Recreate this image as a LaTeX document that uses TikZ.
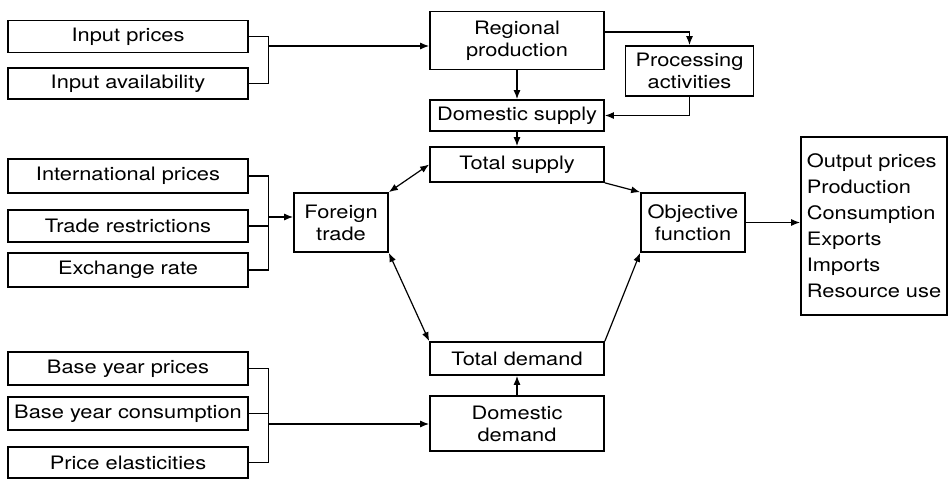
\documentclass[tikz,border=0pt]{standalone}
\usepackage{fontspec}
\setmainfont{TeX Gyre Heros}[FakeStretch=1.18]
\usetikzlibrary{arrows.meta}

\begin{document}
\begin{tikzpicture}[x=1pt, y=-1pt,
    box/.style={draw, line width=1.7pt, inner sep=0pt, align=center,
                font=\fontsize{18.5}{22}\selectfont},
    arr/.style={line width=1.2pt, -{Latex[length=9pt, width=7pt]}},
    arrs/.style={line width=1.2pt, {Latex[length=9pt, width=7pt]}-{Latex[length=9pt, width=7pt]}},
    link/.style={line width=1.2pt}]
  \useasboundingbox (0,0) rectangle (948,479);

  \foreach \n/\y/\h/\t in {inprice/36.5/32/Input prices,
                           inavail/83.5/31/Input availability,
                           intprice/176/34/International prices,
                           traderes/226/32/Trade restrictions,
                           exrate/270/34/Exchange rate,
                           bprice/368.5/33/Base year prices,
                           bcons/413.5/33/Base year consumption,
                           elast/462.5/31/Price elasticities}
  {
    \node [box, minimum width=240pt, minimum height=\h pt] (\n) at (128,\y) {\t};
  }

  \node [box, minimum width=174pt, minimum height=58pt] (regprod) at (517,40.5) {Regional\\production};
  \node [box, minimum width=128pt, minimum height=50pt] (proc) at (689.5,71) {Processing\\activities};
  \node [box, minimum width=174pt, minimum height=31pt] (domsup) at (517,115.5) {Domestic supply};
  \node [box, minimum width=174pt, minimum height=35pt] (totsup) at (517,164.5) {Total supply};
  \node [box, minimum width=94pt, minimum height=59pt] (foreign) at (341,222.5) {Foreign\\trade};
  \node [box, minimum width=104pt, minimum height=59pt] (objfun) at (693,222.5) {Objective\\function};
  \node [box, minimum width=174pt, minimum height=33pt] (totdem) at (517,358.5) {Total demand};
  \node [box, minimum width=174pt, minimum height=55pt] (domdem) at (517,423.5) {Domestic\\demand};
  \node [box, minimum width=146pt, minimum height=178pt, align=left,
         font=\fontsize{18.5}{26}\selectfont] (output) at (874,226)
        {Output prices\\Production\\Consumption\\Exports\\Imports\\Resource use};

  \coordinate (jin) at (268,46);
  \coordinate (jtrade) at (268,217);
  \coordinate (jbase) at (268,424);

  \draw [link] (inprice.east) -- ++(20,0) |- (inavail.east);
  \draw [arr] (jin) -- (jin -| regprod.west);

  \draw [link] (intprice.east) -- ++(20,0) |- (exrate.east);
  \draw [link] (traderes.east) -- ++(20,0);
  \draw [arr] (jtrade) -- (jtrade -| foreign.west);

  \draw [link] (bprice.east) -- ++(20,0) |- (elast.east);
  \draw [link] (bcons.east) -- ++(20,0);
  \draw [arr] (jbase) -- (jbase -| domdem.west);

  \draw [arr] (regprod.east |- 0,32) -| (proc.north);
  \draw [arr] (proc.south) |- (domsup.east);
  \draw [arr] (regprod.south) -- (domsup.north);
  \draw [arr] (domsup.south) -- (totsup.north);
  \draw [arr] (domdem.north) -- (totdem.south);

  \draw [arrs] (foreign.north east) -- (totsup.west);
  \draw [arrs] (foreign.south east) -- (totdem.north west);
  \draw [arr] (totsup.south east) -- (objfun.north west);
  \draw [arr] (totdem.north east) -- (objfun.south west);
  \draw [arr] (objfun.east) -- (objfun.east -| output.west);

\end{tikzpicture}
\end{document}
